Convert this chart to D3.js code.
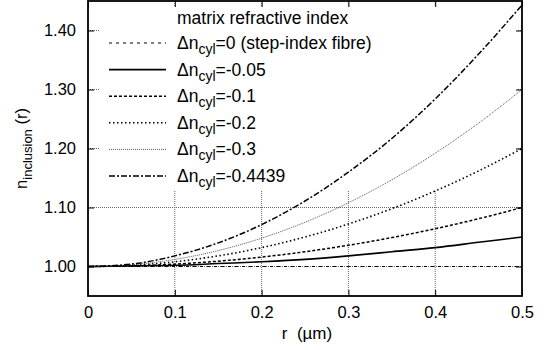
<!DOCTYPE html>
<html>
<head>
<meta charset="utf-8">
<script src="https://cdn.jsdelivr.net/npm/d3@7"></script>
<style>
  body { margin: 0; background: #fff; }
  text { font-family: "Liberation Sans", Arial, Helvetica, sans-serif; fill: #000; }
</style>
</head>
<body>
<div id="chart"></div>
<script>
var svgWidth = 547;
var svgHeight = 350;

var margin = { top: 1, right: 25, bottom: 54, left: 88 };
var width = svgWidth - margin.left - margin.right;
var height = svgHeight - margin.top - margin.bottom;

var radius = [0, 0.05, 0.1, 0.15, 0.2, 0.25, 0.3, 0.35, 0.4, 0.45, 0.5];

var seriesNames = ["0 (step-index fibre)", "-0.05", "-0.1", "-0.2", "-0.3", "-0.4439"];

var nStep   = [1.000, 1.000, 1.000, 1.000, 1.000, 1.000, 1.000, 1.000, 1.000, 1.000, 1.000];
var n005    = [1.000, 1.001, 1.002, 1.005, 1.008, 1.012, 1.018, 1.025, 1.032, 1.041, 1.050];
var n01     = [1.000, 1.001, 1.004, 1.009, 1.016, 1.025, 1.036, 1.049, 1.064, 1.081, 1.100];
var n02     = [1.000, 1.002, 1.008, 1.018, 1.032, 1.050, 1.072, 1.098, 1.128, 1.162, 1.200];
var n03     = [1.000, 1.003, 1.012, 1.027, 1.048, 1.075, 1.108, 1.147, 1.192, 1.243, 1.300];
var n04439  = [1.000, 1.004, 1.018, 1.040, 1.071, 1.111, 1.160, 1.217, 1.284, 1.360, 1.443];

var xTicks = [0, 0.1, 0.2, 0.3, 0.4, 0.5];
var yTicks = [1.00, 1.10, 1.20, 1.30, 1.40];

var seriesValues = [nStep, n005, n01, n02, n03, n04439];

// line look for each series: dash pattern, width, colour
var styles = [
  { dash: "3,4", w: 1, c: "#000" },
  { dash: null, w: 1.6, c: "#000" },
  { dash: "3,2", w: 1.5, c: "#000" },
  { dash: "1.5,2.5", w: 1.6, c: "#000" },
  { dash: "1,1", w: 1, c: "#555" },
  { dash: "6,2,2,2", w: 1.5, c: "#000" }
];

var svg = d3.select("#chart")
  .append("svg")
  .attr("width", svgWidth)
  .attr("height", svgHeight);

var g = svg.append("g")
  .attr("transform", `translate(${margin.left}, ${margin.top})`);

var xScale = d3.scaleLinear().domain([0, 0.5]).range([0, width]);
var yScale = d3.scaleLinear().domain([0.95, 1.45]).range([height, 0]);

// dotted grid
g.append("g")
  .selectAll("line")
  .data(xTicks.slice(1, -1))
  .enter()
  .append("line")
  .attr("x1", d => xScale(d))
  .attr("x2", d => xScale(d))
  .attr("y1", 0)
  .attr("y2", height)
  .attr("stroke", "#666")
  .attr("stroke-width", 1)
  .attr("stroke-dasharray", "1,1");

g.append("g")
  .selectAll("line")
  .data(yTicks)
  .enter()
  .append("line")
  .attr("x1", 0)
  .attr("x2", width)
  .attr("y1", d => yScale(d))
  .attr("y2", d => yScale(d))
  .attr("stroke", "#666")
  .attr("stroke-width", 1)
  .attr("stroke-dasharray", "1,1");

// opaque legend box hides the grid in the upper part
g.append("rect")
  .attr("x", 12)
  .attr("y", 5)
  .attr("width", width - 17)
  .attr("height", 184)
  .attr("fill", "#fff");

// inward ticks on all four sides
var xAxisB = d3.axisBottom(xScale).tickValues(xTicks).tickSizeInner(-6).tickSizeOuter(0)
  .tickFormat(d => d === 0 ? "0" : d3.format(".1f")(d)).tickPadding(10);
var xAxisT = d3.axisTop(xScale).tickValues(xTicks).tickSizeInner(-6).tickSizeOuter(0).tickFormat("");
var yAxisL = d3.axisLeft(yScale).tickValues(yTicks).tickSizeInner(-6).tickSizeOuter(0)
  .tickFormat(d3.format(".2f")).tickPadding(12);
var yAxisR = d3.axisRight(yScale).tickValues(yTicks).tickSizeInner(-6).tickSizeOuter(0).tickFormat("");

function styleAxis(sel) {
  sel.select(".domain").remove();
  sel.selectAll(".tick line").attr("stroke", "#000").attr("stroke-width", 1);
  sel.selectAll(".tick text")
    .attr("font-size", 16.5)
    .attr("font-family", "'Liberation Sans', Arial, sans-serif")
    .attr("fill", "#000");
}

g.append("g").attr("transform", `translate(0, ${height})`).call(xAxisB).call(styleAxis);
g.append("g").call(xAxisT).call(styleAxis);
g.append("g").call(yAxisL).call(styleAxis);
g.append("g").attr("transform", `translate(${width}, 0)`).call(yAxisR).call(styleAxis);

// curves
var line = d3.line()
  .x((d, i) => xScale(radius[i]))
  .y(d => yScale(d))
  .curve(d3.curveMonotoneX);

g.append("g")
  .selectAll("path")
  .data(seriesValues)
  .enter()
  .append("path")
  .attr("d", d => line(d))
  .attr("fill", "none")
  .attr("stroke", (d, i) => styles[i].c)
  .attr("stroke-width", (d, i) => styles[i].w)
  .attr("stroke-dasharray", (d, i) => styles[i].dash);

// frame
g.append("rect")
  .attr("x", 0)
  .attr("y", 0)
  .attr("width", width)
  .attr("height", height)
  .attr("fill", "none")
  .attr("stroke", "#000")
  .attr("stroke-width", 1.8);

// legend
var legend = g.append("g");

legend.append("text")
  .attr("x", 89)
  .attr("y", 23)
  .attr("font-size", 17.5)
  .text("matrix refractive index");

var rowGap = 26.6;
var rows = legend.selectAll(".row")
  .data(seriesNames)
  .enter()
  .append("g")
  .attr("class", "row")
  .attr("transform", (d, i) => `translate(0, ${42 + i * rowGap})`);

rows.append("line")
  .attr("x1", 21)
  .attr("x2", 78)
  .attr("y1", 0)
  .attr("y2", 0)
  .attr("stroke", (d, i) => styles[i].c)
  .attr("stroke-width", (d, i) => styles[i].w)
  .attr("stroke-dasharray", (d, i) => styles[i].dash);

var rowText = rows.append("text")
  .attr("x", 89)
  .attr("y", 6)
  .attr("font-size", 17.5);

rowText.append("tspan").text("\u0394n");
rowText.append("tspan").attr("dy", 5).attr("font-size", 14).text("cyl");
rowText.append("tspan").attr("dy", -5).text(d => "=" + d);

// axis titles
svg.append("text")
  .attr("x", margin.left + width / 2 + 2)
  .attr("y", 339)
  .attr("text-anchor", "middle")
  .attr("font-size", 17)
  .attr("xml:space", "preserve")
  .text("r\u00a0\u00a0(\u00b5m)");

var yTitle = svg.append("text")
  .attr("transform", `translate(27, ${margin.top + height / 2}) rotate(-90)`)
  .attr("text-anchor", "middle")
  .attr("font-size", 16.5);

yTitle.append("tspan").text("n");
yTitle.append("tspan").attr("dy", 5).attr("font-size", 13).text("inclusion");
yTitle.append("tspan").attr("dy", -5).text("\u00a0(r)");
</script>
</body>
</html>
